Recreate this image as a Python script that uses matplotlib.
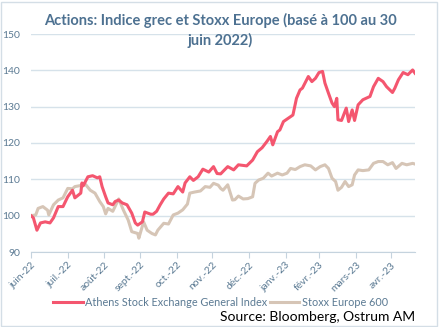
import matplotlib
matplotlib.use("Agg")
import matplotlib.pyplot as plt
from matplotlib.patches import Rectangle
import numpy as np
import pandas as pd

start = pd.Timestamp("2022-06-30")

# Athens Stock Exchange General Index (base 100 = 30 June 2022)
athens_days = [0, 2, 5, 8, 12, 16, 19, 23, 27, 31, 35, 37, 42, 43, 44, 48, 52, 56, 58, 60,
               63, 65, 69, 71, 74, 77, 81, 85, 88, 90, 94, 96, 101, 103, 106, 109, 112, 116,
               120, 124, 128, 130, 134, 137, 141, 145, 150, 154, 157, 160, 166, 171, 175,
               182, 187, 191, 195, 199, 202, 204, 208, 210, 213, 217, 221, 224, 227, 229,
               234, 237, 240, 243, 246, 248, 251, 254, 256, 258, 259, 262, 266, 268, 271,
               273, 276, 280, 286, 289, 293, 297, 300, 305, 307, 310, 314, 318, 322, 324]
athens_vals = [100, 99.4, 96.0, 98.0, 98.3, 98.0, 99.4, 102.5, 102.5, 105.2, 107.0, 104.9,
               106.2, 109.0, 108.2, 110.7, 111.0, 110.4, 110.7, 108.0, 105.2, 103.5, 103.0,
               103.9, 104.3, 103.5, 103.0, 100.7, 98.0, 97.4, 98.3, 101.0, 100.4, 100.4,
               101.2, 103.0, 104.6, 106.2, 106.0, 108.0, 106.5, 109.0, 110.7, 109.7, 110.7,
               112.8, 112.0, 113.5, 111.6, 111.5, 113.5, 112.6, 114.0, 113.7, 115.3, 117.6,
               118.7, 120.4, 121.8, 119.5, 123.1, 123.6, 125.9, 126.8, 127.7, 132.3, 134.6,
               135.1, 138.3, 136.9, 137.8, 139.4, 139.7, 136.5, 133.7, 131.0, 130.0, 132.3,
               126.4, 126.2, 129.6, 125.9, 129.1, 126.2, 130.5, 131.9, 132.8, 135.5, 137.8,
               136.9, 135.5, 133.9, 135.1, 137.4, 139.4, 138.8, 140.1, 139.2]

# Stoxx Europe 600 (base 100 = 30 June 2022)
stoxx_days = [0, 4, 6, 10, 14, 15, 19, 23, 27, 31, 35, 37, 42, 46, 50, 54, 58, 61, 63, 65,
              69, 74, 78, 82, 85, 90, 91, 95, 98, 102, 105, 107, 112, 116, 120, 124, 128,
              132, 134, 138, 143, 147, 151, 154, 158, 160, 162, 166, 170, 172, 175, 179,
              183, 187, 189, 192, 196, 200, 203, 208, 212, 216, 219, 223, 227, 231, 236,
              240, 244, 248, 251, 254, 257, 259, 262, 265, 268, 271, 273, 276, 280, 285,
              289, 293, 297, 301, 305, 308, 313, 317, 322, 324]
stoxx_vals = [100, 100.2, 102.0, 102.5, 101.5, 100.2, 103.0, 104.3, 104.9, 107.5, 107.4,
              108.0, 108.3, 108.6, 107.0, 106.2, 103.9, 102.5, 100.5, 102.0, 101.2, 104.6,
              101.5, 98.8, 95.6, 95.1, 93.8, 98.3, 96.0, 95.1, 94.7, 96.0, 97.9, 97.7, 100.2,
              100.7, 101.6, 103.2, 106.2, 106.5, 106.8, 108.0, 107.8, 108.9, 108.4, 107.5,
              107.0, 108.5, 104.3, 104.4, 105.4, 104.6, 104.7, 105.2, 108.9, 109.8, 110.3,
              111.7, 110.9, 111.7, 111.2, 111.7, 113.0, 112.7, 113.5, 114.0, 113.7, 112.6,
              113.5, 114.0, 113.0, 110.3, 109.4, 107.0, 107.8, 109.4, 108.0, 108.5, 111.2,
              112.6, 112.4, 112.6, 114.4, 114.9, 114.9, 114.0, 114.6, 113.0, 114.4, 114.0,
              114.4, 114.2]

month_ends = ["2022-06-30", "2022-07-31", "2022-08-31", "2022-09-30", "2022-10-31",
              "2022-11-30", "2022-12-31", "2023-01-31", "2023-02-28", "2023-03-31",
              "2023-04-30"]
month_labels = ["juin-22", "juil.-22", "août-22", "sept.-22", "oct.-22", "nov.-22",
                "déc.-22", "janv.-23", "févr.-23", "mars-23", "avr.-23"]

athens_dates = start + pd.to_timedelta(athens_days, unit="D")
stoxx_dates = start + pd.to_timedelta(stoxx_days, unit="D")
tick_dates = pd.to_datetime(month_ends)

FONT = ["Lato", "DejaVu Sans"]
plt.rcParams["font.family"] = FONT

label_col = "#5b7a93"
grid_col = "#d6e2ea"
red = "#f4566f"
beige = "#d6c5b6"

fig = plt.figure(figsize=(4.41, 3.27), dpi=100)
fig.patch.set_facecolor("white")
W, H = 441, 327
ax = fig.add_axes([31 / W, (H - 252) / H, (415 - 31) / W, (252 - 34) / H])

ax.plot(stoxx_dates, stoxx_vals, color=beige, lw=2.2, solid_joinstyle="round",
        label="Stoxx Europe 600", zorder=3)
ax.plot(athens_dates, athens_vals, color=red, lw=2.2, solid_joinstyle="round",
        label="Athens Stock Exchange General Index", zorder=4)

ax.set_ylim(90, 150)
ax.set_yticks(np.arange(90, 151, 10))
ax.set_xlim(start, start + pd.Timedelta(days=324))
ax.set_xticks(tick_dates)
ax.set_xticklabels(month_labels, rotation=45, ha="right", rotation_mode="anchor")

ax.grid(axis="y", color=grid_col, lw=1)
ax.set_axisbelow(True)
for s in ["top", "right", "left"]:
    ax.spines[s].set_visible(False)
ax.spines["bottom"].set_color("#c5d3de")
ax.tick_params(axis="x", colors="#c5d3de", length=4, labelcolor=label_col,
               labelsize=7.5, pad=2)
ax.tick_params(axis="y", length=0, labelcolor=label_col, labelsize=7.5, pad=8)

fig.text(0.5, 1 - 20 / H, "Actions: Indice grec et Stoxx Europe (basé à 100 au 30",
         ha="center", va="center", fontsize=10.5, fontweight="bold", color="#4d7191")
fig.text(0.5, 1 - 40 / H, "juin 2022)",
         ha="center", va="center", fontsize=10.5, fontweight="bold", color="#4d7191")

handles, labels = ax.get_legend_handles_labels()
leg = fig.legend(handles[::-1], labels[::-1], loc="center", ncol=2,
                 bbox_to_anchor=(0.5, 1 - 302 / H), frameon=False, fontsize=7.8,
                 handlelength=2.7, columnspacing=0.3, handletextpad=0.2)
for t in leg.get_texts():
    t.set_color(label_col)

fig.text(415 / W, 1 - 317 / H, "Source: Bloomberg, Ostrum AM", ha="right", va="center",
         fontsize=10, color="black")

fig.patches.append(Rectangle((1 / W, 1 / H), (436 / W), (324 / H), transform=fig.transFigure,
                             fill=False, edgecolor="#d4dee6", lw=1))

fig.savefig("out.png", dpi=100)
